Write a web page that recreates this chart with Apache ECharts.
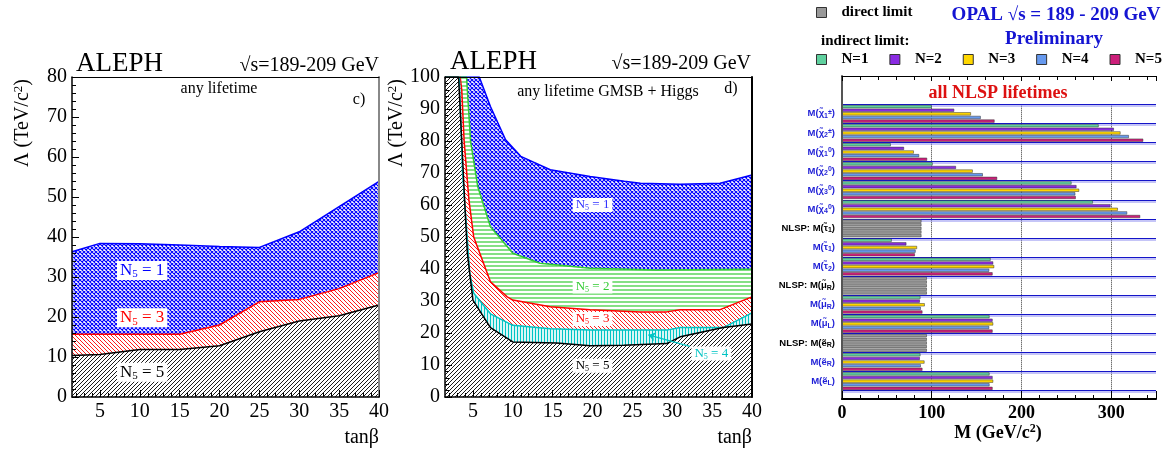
<!DOCTYPE html>
<html><head><meta charset="utf-8">
<script src="https://cdn.jsdelivr.net/npm/echarts@6/dist/echarts.min.js"></script>
<style>html,body{margin:0;padding:0;background:#fff}#c{width:1169px;height:454px}</style>
</head><body><div id="c"></div>
<script>
// ---------- DATA ----------
// Panel c) ALEPH, any lifetime : excluded Lambda vs tan(beta)
const leftTanb = [1.5, 5, 10, 15, 20, 25, 30, 35, 40];
const leftN1 = [36.3, 38.4, 38.3, 38.0, 37.6, 37.4, 41.3, 47.6, 53.9];
const leftN3 = [15.7, 15.7, 15.7, 15.7, 18.0, 23.8, 24.4, 27.1, 31.1];
const leftN5 = [10.4, 10.6, 11.9, 11.9, 12.8, 16.3, 19.0, 20.3, 23.0];

// Panel d) ALEPH, GMSB + Higgs : boundary curves [tanb, Lambda]
const midN1 = [[5.8,100],[7.2,90.8],[9.1,80.4],[11,75.2],[14.7,71],[19.7,68.9],[24,67.4],[26,66.8],[31,66.5],[36,66.8],[40,69.4]];
const midN2 = [[4.2,100],[4.7,80],[5.6,65.8],[7.2,53.2],[10,44.9],[13.4,41.8],[19.7,40.2],[28,39.7],[40,39.9]];
const midN3 = [[3.4,100],[3.6,96],[3.9,80],[4.5,61.6],[5.1,50],[7.2,36],[9.3,31.3],[10,30.3],[14.7,28.2],[19.7,27.3],[26,26.6],[29.3,26.6],[31,27.3],[36,27.3],[40,31.3]];
const midN4 = [[3.3,100],[3.7,70],[4.2,53],[4.6,38.6],[5.1,32.4],[7.2,26],[10,22.4],[14.7,21.3],[19.7,20.9],[29.3,20.9],[31,21.7],[36.4,21.7],[40,26.3]];
const midN5 = [[3.2,100],[3.6,80],[4.0,59.5],[4.3,45],[5,30.3],[7.2,21.7],[10,17.2],[15.5,16.9],[19.7,16],[23.9,16.2],[29.3,16.7],[31,18.8],[36.4,21.7],[40,22.8]];

const tanbTicks = [5, 10, 15, 20, 25, 30, 35, 40];

// OPAL mass limits (GeV/c^2)
const massCats = ['M(χ̃_1^±)','M(χ̃_2^±)','M(χ̃_1^0)','M(χ̃_2^0)','M(χ̃_3^0)','M(χ̃_4^0)',
  'NLSP: M(τ̃_1)','M(τ̃_1)','M(τ̃_2)','NLSP: M(μ̃_R)','M(μ̃_R)','M(μ̃_L)','NLSP: M(ẽ_R)','M(ẽ_R)','M(ẽ_L)'];
const directLimit = [null,null,null,null,null,null,88.5,null,null,94.5,null,null,94.5,null,null];
const limN1 = [100, 286, 54.3, 101, 255.8, 279.6, null, 55.4, 165.6, null, 87.4, 164.4, null, 87.4, 164.4];
const limN2 = [125, 303, 69.1, 127, 261.3, 299.3, null, 71.7, 168.5, null, 86.7, 167.8, null, 86.7, 167.8];
const limN3 = [143.7, 310.4, 80, 145.7, 264.3, 307.4, null, 83.6, 169.6, null, 92.2, 168.5, null, 91.9, 168.5];
const limN4 = [154.6, 319.7, 85.9, 156.9, 260, 317.8, null, 82, 164, null, 87.8, 164, null, 87.8, 164.4];
const limN5 = [170, 335.7, 94.8, 172.9, 260.5, 332.3, null, 81.2, 167.8, null, 89.6, 167.8, null, 89.6, 167.8];
const nNames = ['N=1','N=2','N=3','N=4','N=5'];

// ---------- STYLE ----------
const SERIF = 'Liberation Serif';
const SANS = 'Liberation Sans';
const BLUE = '#0000ff', RED = '#ff0000', GREEN = '#33cc33', CYAN = '#00c4c4', BLACK = '#000000';
const barColors = ['#5fd09e', '#8a2be2', '#ffd700', '#6699ee', '#cc1f7a'];
const GRAY = '#999999';

function hatch(kind, color, s, lw) {
  const c = document.createElement('canvas');
  c.width = s; c.height = s;
  const g = c.getContext('2d');
  g.fillStyle = '#fff'; g.fillRect(0, 0, s, s);
  g.strokeStyle = color; g.lineWidth = lw;
  g.beginPath();
  if (kind === 'h') { g.moveTo(0, s / 2); g.lineTo(s, s / 2); }
  if (kind === 'v') { g.moveTo(s / 2, 0); g.lineTo(s / 2, s); }
  for (let k = -1; k <= 1; k++) {
    if (kind === '/' || kind === 'x') { g.moveTo(k * s, s); g.lineTo(k * s + s, 0); }
    if (kind === '\\' || kind === 'x') { g.moveTo(k * s, 0); g.lineTo(k * s + s, s); }
  }
  g.stroke();
  return { image: c, repeat: 'repeat' };
}

function richText(s, base) {
  let out = '', buf = '';
  for (let i = 0; i < s.length; i++) {
    const ch = s[i];
    if ((ch === '_' || ch === '^') && i + 1 < s.length) {
      if (buf) { out += '{' + base + '|' + buf + '}'; buf = ''; }
      out += '{' + base + (ch === '_' ? 'Sub' : 'Sup') + '|' + s[i + 1] + '}';
      i++;
    } else buf += ch;
  }
  if (buf) out += '{' + base + '|' + buf + '}';
  return out;
}
function richSet(base, family, weight, size, color, sub) {
  const r = {};
  r[base] = { fontFamily: family, fontWeight: weight, fontSize: size, color: color };
  r[base + 'Sub'] = { fontFamily: family, fontWeight: weight, fontSize: sub, color: color, padding: [Math.round(size * 0.45), 0, 0, 0] };
  r[base + 'Sup'] = { fontFamily: family, fontWeight: weight, fontSize: sub, color: color, padding: [0, 0, Math.round(size * 0.45), 0] };
  return r;
}

// annotation placement (data coordinates)
const leftNotes = [
  { txt: 'N_5 = 1', at: [10.3, 31.6], color: BLUE },
  { txt: 'N_5 = 3', at: [10.3, 19.8], color: RED },
  { txt: 'N_5 = 5', at: [10.3, 6.2], color: BLACK }
];
const midNotes = [
  { txt: 'N_5 = 1', at: [20, 60], color: '#3333ff' },
  { txt: 'N_5 = 2', at: [20, 34.5], color: GREEN },
  { txt: 'N_5 = 3', at: [20, 24.4], color: RED },
  { txt: 'N_5 = 5', at: [20, 9.8], color: BLACK },
  { txt: 'N_5 = 4', at: [34.9, 13.6], color: CYAN }
];

function pairs(xs, ys) { return xs.map((x, i) => [x, ys[i]]); }
function noteSeries(notes, xi, yi, size) {
  return {
    type: 'scatter', xAxisIndex: xi, yAxisIndex: yi, symbolSize: 0, silent: true, z: 6,
    itemStyle: { opacity: 1 },
    data: notes.map(n => ({
      value: n.at,
      label: {
        show: true, position: 'inside', opacity: 1, formatter: richText(n.txt, 'n'),
        rich: richSet('n', SERIF, 'normal', size, n.color, Math.round(size * 0.62)),
        backgroundColor: '#ffffff', padding: [0, 3, 0, 3]
      }
    }))
  };
}

const minorTanb = [];
for (let t = 2; t <= 40; t++) minorTanb.push(t);

function tanbAxes(grid) {
  return [
    { gridIndex: grid, type: 'value', min: 1.5, max: 40, position: 'bottom', z: 10,
      axisLine: { onZero: false, lineStyle: { color: '#000', width: 1.5 } },
      axisTick: { inside: true, length: 7, customValues: tanbTicks, lineStyle: { color: '#000' } },
      axisLabel: { customValues: tanbTicks, fontFamily: SERIF, fontSize: 20, color: '#000', margin: 5 },
      splitLine: { show: false } },
    { gridIndex: grid, type: 'value', min: 1.5, max: 40, position: 'bottom', z: 10,
      axisLine: { show: false, onZero: false },
      axisTick: { inside: true, length: 4, customValues: minorTanb, lineStyle: { color: '#000' } },
      axisLabel: { show: false }, splitLine: { show: false } },
    { gridIndex: grid, type: 'value', min: 1.5, max: 40, position: 'top', z: 10,
      axisLine: { onZero: false, lineStyle: { color: '#000', width: 1 } },
      axisTick: { show: false }, axisLabel: { show: false }, splitLine: { show: false } }
  ];
}
function lambdaAxes(grid, max, rightColor) {
  return [
    { gridIndex: grid, type: 'value', min: 0, max: max, interval: 10, position: 'left', z: 10,
      axisLine: { onZero: false, lineStyle: { color: '#000', width: 1.5 } },
      axisTick: { inside: true, length: 7, lineStyle: { color: '#000' } },
      minorTick: { show: true, splitNumber: 5, length: 4, lineStyle: { color: '#000' } },
      axisLabel: { fontFamily: SERIF, fontSize: 20, color: '#000', margin: 5 },
      splitLine: { show: false } },
    { gridIndex: grid, type: 'value', min: 0, max: max, position: 'right', z: 10,
      axisLine: { onZero: false, lineStyle: { color: rightColor, width: 2 } },
      axisTick: { show: false }, axisLabel: { show: false }, splitLine: { show: false } }
  ];
}
function areaLine(xi, yi, data, color, pattern) {
  return { type: 'line', xAxisIndex: xi, yAxisIndex: yi, data: data, symbol: 'none', silent: true,
    lineStyle: { color: color, width: 1.5 }, areaStyle: { color: pattern, opacity: 1 } };
}

const chart = echarts.init(document.getElementById('c'), null, { renderer: 'canvas' });

const blueX = hatch('x', BLUE, 4, 1.1);
const redH = hatch('\\', RED, 4, 0.9);
const blackH = hatch('/', BLACK, 4, 0.9);
const greenH = hatch('h', GREEN, 4, 1.2);
const cyanH = hatch('v', CYAN, 3, 1.3);

const series = [
  // panel c)
  areaLine(0, 0, pairs(leftTanb, leftN1), BLUE, blueX),
  areaLine(0, 0, pairs(leftTanb, leftN3), RED, redH),
  areaLine(0, 0, pairs(leftTanb, leftN5), BLACK, blackH),
  noteSeries(leftNotes, 0, 0, 17),
  // panel d)
  areaLine(3, 2, [[1.5, 100]].concat(midN1), BLUE, blueX),
  areaLine(3, 2, [[1.5, 100]].concat(midN2), GREEN, greenH),
  areaLine(3, 2, [[1.5, 100]].concat(midN3), RED, redH),
  areaLine(3, 2, [[1.5, 100]].concat(midN4), CYAN, cyanH),
  areaLine(3, 2, [[1.5, 100]].concat(midN5), BLACK, blackH),
  Object.assign(noteSeries(midNotes, 3, 2, 13), {
    markLine: { silent: true, symbol: ['none', 'arrow'], symbolSize: 7,
      lineStyle: { color: CYAN, width: 1.2, type: 'solid', opacity: 1 }, label: { show: false },
      data: [[{ coord: [32.2, 15.8] }, { coord: [27, 19.4] }]] }
  }),
  // OPAL legend dummy for direct limit
  { type: 'scatter', name: 'direct limit', xAxisIndex: 6, yAxisIndex: 4, data: [],
    itemStyle: { color: GRAY, opacity: 1 } }
];
const lims = [limN1, limN2, limN3, limN4, limN5];
lims.forEach((arr, k) => {
  series.push({
    type: 'bar', name: nNames[k], xAxisIndex: 8, yAxisIndex: 5, silent: true,
    barCategoryGap: '8%', barGap: '18%',
    itemStyle: { color: barColors[k], borderColor: '#333', borderWidth: 0.5 },
    data: massCats.map((c, i) => directLimit[i] != null
      ? { value: directLimit[i], itemStyle: { color: GRAY } } : arr[i])
  });
});

const catRich = Object.assign({},
  richSet('b', SANS, 'bold', 9.5, '#1f1fd6', 7),
  richSet('k', SANS, 'bold', 9.5, '#000', 7));

const legendCommon = {
  icon: 'rect', itemWidth: 10, itemHeight: 10, padding: 0,
  itemStyle: { borderColor: '#333', borderWidth: 1 },
  textStyle: { fontFamily: SERIF, fontWeight: 'bold', fontSize: 15, color: '#000', padding: [0, 0, 0, 10] }
};

function gtext(x, y, text, font, color, align, rich, rotation) {
  const st = { text: text, font: font, fill: color || '#000', align: align || 'left', verticalAlign: 'middle',
    textAlign: align || 'left', textVerticalAlign: 'middle' };
  if (rich) st.rich = rich;
  const el = { type: 'text', x: x, y: y, style: st, z: 20, silent: true };
  if (rotation) el.rotation = rotation;
  return el;
}
const lamRich = {
  a: { fontFamily: SERIF, fontSize: 20, color: '#000' },
  s: { fontFamily: SERIF, fontSize: 13, color: '#000', padding: [0, 0, 9, 0] }
};
const mRich = {
  a: { fontFamily: SERIF, fontSize: 18, fontWeight: 'bold', color: '#000' },
  s: { fontFamily: SERIF, fontSize: 12, fontWeight: 'bold', color: '#000', padding: [0, 0, 9, 0] }
};

const option = {
  animation: false,
  backgroundColor: '#fff',
  grid: [
    { left: 72, top: 77, width: 307, height: 320 },
    { left: 445, top: 77, width: 307, height: 320 },
    { left: 842, top: 76, width: 314, height: 323 },
    { left: 842, top: 104.3, width: 314, height: 286.4 }
  ],
  xAxis: [].concat(
    tanbAxes(0), tanbAxes(1),
    [
      { gridIndex: 2, type: 'value', min: 0, max: 350, interval: 100, position: 'bottom', z: 10,
        axisLine: { onZero: false, lineStyle: { color: '#000', width: 2 } },
        axisTick: { inside: true, length: 8, lineStyle: { color: '#000' } },
        minorTick: { show: true, splitNumber: 5, length: 4, lineStyle: { color: '#000' } },
        axisLabel: { fontFamily: SERIF, fontWeight: 'bold', fontSize: 18, color: '#000', margin: 5, showMaxLabel: false },
        splitLine: { show: false } },
      { gridIndex: 2, type: 'value', min: 0, max: 350, interval: 100, position: 'top', z: 10,
        axisLine: { onZero: false, lineStyle: { color: '#000', width: 1 } },
        axisTick: { inside: true, length: 5, lineStyle: { color: '#000' } },
        minorTick: { show: true, splitNumber: 5, length: 4, lineStyle: { color: '#000' } },
        axisLabel: { show: false }, splitLine: { show: false } },
      { gridIndex: 3, type: 'value', min: 0, max: 350, interval: 100, z: 1,
        axisLine: { show: false, onZero: false }, axisTick: { show: false }, axisLabel: { show: false },
        splitLine: { show: true, showMinLine: false, showMaxLine: false, lineStyle: { color: '#333', type: 'dotted', width: 1 } } }
    ]),
  yAxis: [].concat(
    lambdaAxes(0, 80, '#888'), lambdaAxes(1, 100, '#000'),
    [
      { gridIndex: 2, type: 'value', min: 0, max: 1, position: 'left', z: 10,
        axisLine: { onZero: false, lineStyle: { color: '#555', width: 2 } },
        axisTick: { show: false }, axisLabel: { show: false }, splitLine: { show: false } },
      { gridIndex: 3, type: 'category', data: massCats, inverse: true, z: 2,
        axisLine: { show: false }, axisTick: { show: false, interval: 0 },
        axisLabel: { interval: 0, margin: 7, formatter: v => richText(v, v.indexOf('NLSP') === 0 ? 'k' : 'b'), rich: catRich },
        splitLine: { show: true, interval: 0, lineStyle: { color: '#1414c8', width: 1.2, shadowColor: '#8c8cf0', shadowOffsetY: 1.5, shadowBlur: 0 } } }
    ]),
  legend: [
    Object.assign({}, legendCommon, { data: ['direct limit'], left: 816, top: 5 }),
    Object.assign({}, legendCommon, { data: nNames, left: 816, top: 52, itemGap: 21 })
  ],
  graphic: [
    gtext(76, 64, 'ALEPH', 'normal 27px "Liberation Serif"', '#000', 'left'),
    gtext(379, 66, '√s=189-209 GeV', 'normal 20px "Liberation Serif"', '#000', 'right'),
    gtext(219, 89, 'any lifetime', 'normal 16px "Liberation Serif"', '#000', 'center'),
    gtext(359, 100, 'c)', 'normal 16px "Liberation Serif"', '#000', 'center'),
    gtext(23, 123, '{a|Λ (TeV/c}{s|2}{a|)}', 'normal 20px "Liberation Serif"', '#000', 'center', lamRich, Math.PI / 2),
    gtext(379, 438, 'tanβ', 'normal 20px "Liberation Serif"', '#000', 'right'),

    gtext(450, 62, 'ALEPH', 'normal 27px "Liberation Serif"', '#000', 'left'),
    gtext(751, 64, '√s=189-209 GeV', 'normal 20px "Liberation Serif"', '#000', 'right'),
    gtext(608, 92, 'any lifetime GMSB + Higgs', 'normal 16px "Liberation Serif"', '#000', 'center'),
    gtext(731, 89, 'd)', 'normal 16px "Liberation Serif"', '#000', 'center'),
    gtext(397, 123, '{a|Λ (TeV/c}{s|2}{a|)}', 'normal 20px "Liberation Serif"', '#000', 'center', lamRich, Math.PI / 2),
    gtext(752, 438, 'tanβ', 'normal 20px "Liberation Serif"', '#000', 'right'),

    gtext(821, 41, 'indirect limit:', 'bold 15px "Liberation Serif"', '#000', 'left'),
    gtext(1056, 15, 'OPAL √s = 189 - 209 GeV', 'bold 19px "Liberation Serif"', '#1414d2', 'center'),
    gtext(1054, 39, 'Preliminary', 'bold 19px "Liberation Serif"', '#1414d2', 'center'),
    gtext(998, 93, 'all NLSP lifetimes', 'bold 18px "Liberation Serif"', '#dd1111', 'center'),
    gtext(998, 433, '{a|M (GeV/c}{s|2}{a|)}', 'bold 18px "Liberation Serif"', '#000', 'center', mRich)
  ],
  series: series
};
chart.setOption(option);
</script></body></html>
